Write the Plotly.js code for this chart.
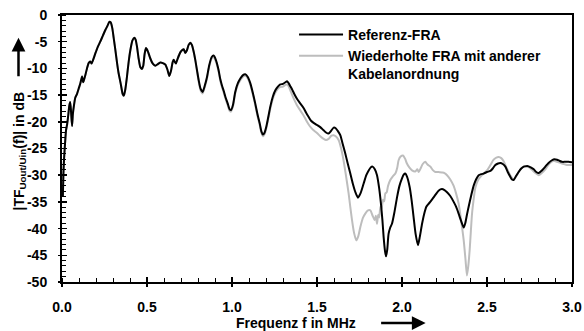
<!DOCTYPE html>
<html><head><meta charset="utf-8">
<script src="https://cdn.plot.ly/plotly-3.0.1.min.js"></script>
<style>html,body{margin:0;padding:0;background:#fff}#chart{width:584px;height:331px}</style>
</head><body><div id="chart"></div>
<script>
// Referenz-FRA (black)
const refFreq = [0.005,0.008,0.012,0.018,0.024,0.030,0.036,0.043,0.048,0.053,0.059,0.064,0.070,0.078,0.088,0.098,0.108,0.118,0.124,0.128,0.137,0.147,0.157,0.166,0.174,0.182,0.196,0.210,0.225,0.240,0.255,0.268,0.278,0.287,0.296,0.305,0.314,0.324,0.333,0.345,0.357,0.364,0.372,0.382,0.392,0.402,0.414,0.425,0.433,0.441,0.451,0.461,0.470,0.478,0.486,0.494,0.505,0.519,0.534,0.549,0.564,0.578,0.593,0.608,0.620,0.631,0.641,0.651,0.657,0.664,0.670,0.680,0.696,0.706,0.716,0.725,0.735,0.745,0.755,0.764,0.774,0.784,0.794,0.804,0.815,0.827,0.840,0.853,0.866,0.880,0.892,0.905,0.921,0.931,0.941,0.951,0.961,0.975,0.985,0.994,1.006,1.019,1.034,1.049,1.063,1.078,1.093,1.108,1.122,1.137,1.150,1.163,1.173,1.182,1.192,1.202,1.214,1.225,1.240,1.255,1.270,1.284,1.300,1.314,1.324,1.334,1.344,1.353,1.368,1.382,1.400,1.421,1.436,1.451,1.465,1.480,1.500,1.519,1.539,1.553,1.568,1.585,1.598,1.610,1.622,1.637,1.650,1.666,1.680,1.696,1.710,1.725,1.741,1.757,1.774,1.790,1.804,1.817,1.827,1.840,1.853,1.865,1.876,1.885,1.892,1.900,1.906,1.913,1.921,1.931,1.941,1.955,1.971,1.985,2.000,2.010,2.019,2.030,2.045,2.057,2.068,2.080,2.094,2.105,2.118,2.130,2.143,2.155,2.166,2.180,2.196,2.215,2.235,2.250,2.265,2.284,2.304,2.318,2.333,2.348,2.363,2.372,2.382,2.392,2.407,2.422,2.437,2.451,2.466,2.480,2.500,2.520,2.535,2.549,2.565,2.578,2.593,2.608,2.622,2.637,2.647,2.657,2.670,2.686,2.700,2.716,2.730,2.741,2.760,2.775,2.790,2.804,2.820,2.843,2.862,2.882,2.897,2.912,2.926,2.941,2.960,2.980,3.000];
const refDb = [-34,-30,-27,-24,-21.5,-20.5,-19,-17,-16.3,-18,-20.8,-18.5,-17,-15.5,-14.8,-13.8,-12.8,-11.5,-12.6,-12.3,-11.3,-10,-9,-8.7,-9.1,-8.5,-7.2,-6,-5,-3.9,-2.8,-2,-1.3,-1.4,-2.5,-4.5,-6.6,-9,-10.9,-12.8,-14.8,-15.1,-14,-11.6,-8.8,-6.6,-4.8,-4.25,-4.6,-5.9,-8.2,-9.8,-10.1,-9.5,-7.3,-6.2,-6.8,-8.1,-9.1,-9.5,-9.2,-8.9,-9.0,-9.3,-10.2,-11.4,-10.5,-8.8,-8.4,-8.8,-9.1,-8.2,-7.0,-6.6,-6.4,-7.1,-6.6,-5.6,-5.2,-5.6,-6.8,-8.4,-10.3,-12.2,-13.8,-14.4,-13.2,-11.6,-9.4,-7.9,-7.6,-8.4,-10.3,-12,-13.2,-14.2,-15.3,-16.6,-17.6,-17.8,-16.8,-14.4,-12.8,-11.9,-11.3,-11.1,-11.6,-12.8,-14.5,-16.6,-18.6,-20.3,-21.8,-22.4,-22,-20.9,-19,-17.2,-15.3,-14.1,-13.4,-13.0,-12.9,-12.6,-12.4,-12.8,-13.4,-13.9,-14.9,-15.7,-16.5,-17.4,-18.3,-19.1,-19.8,-20.2,-20.6,-21.0,-21.6,-22.0,-22.2,-21.6,-21.1,-21.2,-21.7,-22.5,-24.0,-25.9,-27.7,-29.7,-31.5,-33.1,-34.2,-33.3,-31.6,-30.0,-29.1,-28.5,-28.4,-28.9,-30.0,-32.3,-35.3,-38.5,-41.6,-44.2,-45.2,-44,-41.0,-39.8,-39.1,-37,-34.1,-32,-30.6,-29.9,-29.7,-30.3,-32.2,-34.8,-37.8,-41,-43.1,-41.5,-39.1,-37.3,-35.9,-35.4,-35.0,-34.4,-33.7,-32.9,-32.6,-32.8,-33.2,-33.9,-35.0,-35.9,-37.2,-38.6,-39.8,-39.0,-37.4,-35.9,-33.8,-31.9,-30.7,-30.0,-29.8,-29.7,-29.4,-29.2,-28.7,-28.1,-27.8,-27.7,-27.9,-28.4,-29.4,-30.3,-30.8,-30.9,-30.2,-29.4,-28.8,-28.4,-28.3,-28.3,-28.6,-28.9,-29.4,-29.6,-29.2,-28.4,-27.7,-27.2,-27.0,-27.1,-27.3,-27.5,-27.5,-27.5,-27.6];

// Wiederholte FRA mit anderer Kabelanordnung (grey)
const repFreq = [0.005,0.008,0.012,0.018,0.024,0.030,0.036,0.043,0.048,0.053,0.059,0.064,0.070,0.078,0.088,0.098,0.108,0.118,0.124,0.128,0.137,0.147,0.157,0.166,0.174,0.182,0.196,0.210,0.225,0.240,0.255,0.268,0.278,0.287,0.296,0.305,0.314,0.324,0.333,0.345,0.357,0.364,0.372,0.382,0.392,0.402,0.414,0.425,0.433,0.441,0.451,0.461,0.470,0.478,0.486,0.494,0.505,0.519,0.534,0.549,0.564,0.578,0.593,0.608,0.620,0.631,0.641,0.651,0.657,0.664,0.670,0.680,0.696,0.706,0.716,0.725,0.735,0.745,0.755,0.764,0.774,0.784,0.794,0.804,0.815,0.827,0.840,0.853,0.866,0.880,0.892,0.905,0.921,0.931,0.941,0.951,0.961,0.975,0.985,0.994,1.006,1.019,1.034,1.049,1.063,1.078,1.093,1.108,1.122,1.137,1.150,1.163,1.173,1.182,1.192,1.202,1.214,1.225,1.240,1.255,1.270,1.284,1.300,1.314,1.324,1.334,1.344,1.353,1.368,1.382,1.400,1.421,1.436,1.451,1.465,1.480,1.500,1.519,1.539,1.553,1.568,1.585,1.598,1.610,1.627,1.642,1.656,1.670,1.686,1.696,1.706,1.718,1.731,1.743,1.755,1.770,1.784,1.800,1.814,1.826,1.839,1.846,1.853,1.860,1.866,1.873,1.880,1.888,1.895,1.902,1.910,1.918,1.931,1.946,1.961,1.972,1.980,1.992,2.006,2.018,2.029,2.044,2.059,2.078,2.090,2.098,2.110,2.122,2.137,2.150,2.167,2.180,2.196,2.215,2.235,2.250,2.265,2.284,2.304,2.318,2.333,2.348,2.363,2.373,2.382,2.390,2.398,2.405,2.412,2.422,2.431,2.446,2.461,2.480,2.500,2.520,2.539,2.555,2.569,2.584,2.598,2.615,2.637,2.657,2.670,2.686,2.700,2.716,2.730,2.745,2.765,2.785,2.804,2.822,2.843,2.865,2.892,2.912,2.931,2.950,2.971,3.000];
const repDb = [-34,-30,-27,-24,-21.5,-20.5,-19,-17,-16.3,-18,-20.8,-18.5,-17,-15.5,-14.8,-13.8,-12.8,-11.5,-12.6,-12.3,-11.3,-10,-9,-8.7,-9.1,-8.5,-7.2,-6,-5,-3.9,-2.8,-2,-1.3,-1.4,-2.5,-4.5,-6.6,-9,-10.9,-12.8,-14.8,-15.1,-14,-11.6,-8.8,-6.6,-4.8,-4.25,-4.6,-5.9,-8.2,-9.8,-10.1,-9.5,-7.3,-6.2,-6.8,-8.1,-9.1,-9.5,-9.2,-8.9,-9.0,-9.3,-10.2,-11.4,-10.5,-8.8,-8.4,-8.8,-9.1,-8.2,-7.0,-6.6,-6.4,-7.1,-6.6,-5.6,-5.2,-5.6,-6.8,-8.5,-10.5,-12.5,-14.1,-14.7,-13.5,-11.9,-9.7,-8.2,-7.9,-8.7,-10.6,-12.3,-13.5,-14.5,-15.6,-16.9,-17.9,-18.1,-17.1,-14.7,-13.1,-12.2,-11.6,-11.4,-11.9,-13.1,-14.8,-16.9,-18.9,-20.6,-22.1,-22.7,-22.3,-21.2,-19.4,-17.6,-15.7,-14.5,-13.8,-13.5,-13.4,-13.1,-13.0,-13.4,-14.2,-14.9,-16.0,-16.9,-17.8,-18.8,-19.7,-20.5,-21.1,-21.6,-22.1,-22.7,-23.2,-23.4,-23.2,-22.6,-22.5,-22.7,-23.4,-25,-27.2,-30,-33.4,-36,-38.4,-40.8,-42.2,-41.4,-39.7,-38,-37.2,-36.6,-36.6,-37.5,-38.4,-37.6,-39.1,-37.4,-37.9,-35.9,-36.3,-34.6,-34.9,-33.4,-33.2,-32.0,-30.9,-30.2,-29.7,-28.6,-27.2,-26.5,-26.3,-26.9,-27.8,-28.6,-29.1,-29.3,-28.9,-29.4,-28.7,-27.9,-27.5,-28.0,-28.4,-29.0,-29.4,-29.4,-29.5,-29.6,-30.0,-30.8,-32.0,-33.4,-35.3,-38.5,-42.2,-45.6,-48.8,-47,-44,-40.5,-37.2,-34.4,-32.4,-31.0,-30.3,-29.7,-29.1,-28.1,-27.1,-26.7,-26.6,-26.8,-27.4,-28.6,-30.0,-30.8,-30.3,-29.4,-28.8,-28.4,-28.4,-28.5,-29.0,-29.6,-30.0,-29.6,-28.9,-27.9,-27.3,-27.5,-27.7,-27.9,-28.1,-28.1];

const seriesNames = ["Referenz-FRA", "Wiederholte FRA mit anderer<br>Kabelanordnung"];
const xTitle = "Frequenz f in MHz";
const yTitle = "|TF<sub>Uout/Uin</sub>(f)| in dB";
const xTickVals = [0, 0.5, 1.0, 1.5, 2.0, 2.5, 3.0];
const xTickText = ["0.0", "0.5", "1.0", "1.5", "2.0", "2.5", "3.0"];
const yTickVals = [0, -5, -10, -15, -20, -25, -30, -35, -40, -45, -50];
const yTickText = ["0", "-5", "-10", "-15", "-20", "-25", "-30", "-35", "-40", "-45", "-50"];

const FONT = "Liberation Sans, Arial, Helvetica, sans-serif";
const TFONT = {family: FONT, size: 14, color: "#000", weight: "bold"};

const traces = [
  {x: repFreq, y: repDb, name: seriesNames[1], type: "scatter", mode: "lines",
   line: {color: "#bdbdbd", width: 2, shape: "spline", smoothing: 0.6}, legendrank: 2},
  {x: refFreq, y: refDb, name: seriesNames[0], type: "scatter", mode: "lines",
   line: {color: "#000000", width: 2, shape: "spline", smoothing: 0.6}, legendrank: 1},
  {x: [], y: [], xaxis: "x2", yaxis: "y2", showlegend: false, hoverinfo: "skip"}
];

const layout = {
  width: 584, height: 331,
  margin: {l: 62, r: 12, t: 15, b: 49},
  paper_bgcolor: "#fff", plot_bgcolor: "#fff",
  font: TFONT,
  showlegend: true,
  legend: {x: 0.455, y: 0.985, xanchor: "left", yanchor: "top", bgcolor: "rgba(0,0,0,0)",
           font: TFONT, valign: "top", tracegroupgap: 0, itemwidth: 44},
  xaxis: {range: [0, 3], tickvals: xTickVals, ticktext: xTickText,
          ticks: "outside", ticklen: 3, tickwidth: 1.5, tickcolor: "#000",
          minor: {ticks: "inside", ticklen: 4, tickwidth: 1, dtick: 0.1, tick0: 0, tickcolor: "#000"},
          showline: true, linewidth: 2, linecolor: "#000", mirror: true,
          showgrid: false, zeroline: false, ticklabelstandoff: 8},
  yaxis: {range: [-50, 0], tickvals: yTickVals, ticktext: yTickText,
          ticks: "outside", ticklen: 2, tickwidth: 1.5, tickcolor: "#000",
          minor: {ticks: "inside", ticklen: 4, tickwidth: 1, dtick: 1, tick0: 0, tickcolor: "#000"},
          showline: true, linewidth: 2, linecolor: "#000", mirror: true,
          showgrid: false, zeroline: false, ticklabelstandoff: 8},
  xaxis2: {overlaying: "x", anchor: "y", range: [0, 3], tickvals: xTickVals, ticks: "inside", ticklen: 5,
           tickwidth: 1.5, tickcolor: "#000", showticklabels: false, showline: false, showgrid: false, zeroline: false},
  yaxis2: {overlaying: "y", anchor: "x", side: "left", range: [-50, 0], tickvals: yTickVals, ticks: "inside", ticklen: 5,
           tickwidth: 1.5, tickcolor: "#000", showticklabels: false, showline: false, showgrid: false, zeroline: false},
  annotations: [
    {xref: "paper", yref: "paper", x: 0.459, y: -0.1536, xanchor: "center", yanchor: "middle",
     text: xTitle, showarrow: false, font: TFONT},
    {xref: "paper", yref: "paper", x: -0.0833, y: 0.4906, xanchor: "center", yanchor: "middle",
     text: yTitle, textangle: -90, showarrow: false, font: TFONT},
    {xref: "paper", yref: "paper", x: 0.713, y: -0.1536, ax: -46, ay: 0, text: "", showarrow: true,
     arrowhead: 2, arrowsize: 1.1, arrowwidth: 2.5, arrowcolor: "#000"},
    {xref: "paper", yref: "paper", x: -0.0853, y: 0.915, ax: 0, ay: 40, text: "", showarrow: true,
     arrowhead: 2, arrowsize: 1.1, arrowwidth: 2.5, arrowcolor: "#000"}
  ]
};

Plotly.newPlot("chart", traces, layout, {displayModeBar: false, staticPlot: true});
</script></body></html>
